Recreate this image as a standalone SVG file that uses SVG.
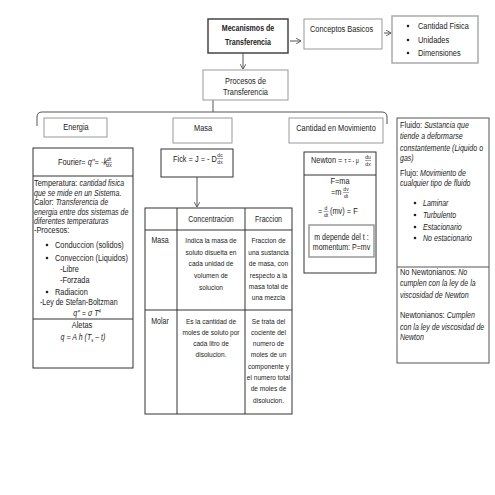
<svg xmlns="http://www.w3.org/2000/svg" width="495" height="495" viewBox="0 0 495 495">
<defs>
<style>
text{font-family:"Liberation Sans",Arial,sans-serif;fill:#222;font-size:8.6px}
.h{font-size:9px}
.tb{font-size:8px}
.s{font-size:5px}
.c{text-anchor:middle}
.i{font-style:italic}
.b{font-weight:bold}
.box{fill:#fff;stroke:#999;stroke-width:1}
.dk{fill:#fff;stroke:#333;stroke-width:1}
.ln{fill:none;stroke:#333;stroke-width:1}
.con{fill:none;stroke:#555;stroke-width:1}
</style>
<marker id="ah" markerWidth="6" markerHeight="6" refX="5" refY="3" orient="auto" markerUnits="userSpaceOnUse">
<path d="M0,0 L5,3 L0,6" fill="none" stroke="#555" stroke-width="0.9"/>
</marker>
</defs>
<rect width="495" height="495" fill="#fff"/>

<g id="connectors">
<line class="con" x1="290" y1="41" x2="301" y2="41" marker-end="url(#ah)"/>
<line class="con" x1="384" y1="33" x2="391" y2="33" marker-end="url(#ah)"/>
<line class="con" x1="243" y1="53" x2="243" y2="69" marker-end="url(#ah)"/>
<line class="con" x1="213" y1="100" x2="213" y2="112"/>
<path class="con" d="M37,126 L37,117 Q37,112 42,112 L382,112 Q387,112 387,117 L387,124"/>
<line class="con" x1="197" y1="177" x2="197" y2="207" marker-end="url(#ah)"/>
</g>

<g id="mecanismos">
<rect x="208" y="19" width="80" height="34" fill="#fff" stroke="#444" stroke-width="1.5"/>
<text class="b c" transform="translate(248,31) scale(.82,1)">Mecanismos de</text>
<text class="b c" transform="translate(248,45) scale(.82,1)">Transferencia</text>
</g>

<g id="conceptos">
<rect class="box" x="304" y="19" width="78" height="30"/>
<text class="h" transform="translate(310,32) scale(.82,1)">Conceptos Basicos</text>
</g>

<g id="cantidad-fisica">
<rect x="392" y="16" width="86" height="47" fill="#fff" stroke="#aaa" stroke-width="1.5"/>
<circle cx="408" cy="26" r="1.3" fill="#222"/>
<circle cx="408" cy="40" r="1.3" fill="#222"/>
<circle cx="408" cy="53" r="1.3" fill="#222"/>
<text class="h" transform="translate(418,29) scale(.82,1)">Cantidad Fisica</text>
<text class="h" transform="translate(418,43) scale(.82,1)">Unidades</text>
<text class="h" transform="translate(418,56) scale(.82,1)">Dimensiones</text>
</g>

<g id="procesos">
<rect class="box" x="203" y="70" width="85" height="30"/>
<text class="h c" transform="translate(245.5,84) scale(.82,1)">Procesos de</text>
<text class="h c" transform="translate(245.5,95) scale(.82,1)">Transferencia</text>
</g>

<g id="energia">
<rect class="box" x="44" y="118" width="63" height="19"/>
<text class="h c" transform="translate(76,130) scale(.82,1)">Energia</text>
</g>

<g id="masa">
<rect class="box" x="173" y="118" width="59" height="25"/>
<text class="h c" transform="translate(203,131) scale(.82,1)">Masa</text>
</g>

<g id="cantidad-movimiento">
<rect class="box" x="289" y="118" width="94" height="25"/>
<text class="h c" transform="translate(336,131) scale(.82,1)">Cantidad en Movimiento</text>
</g>

<g id="energia-detalle">
<rect class="dk" x="33" y="148" width="100" height="220"/>
<line class="ln" x1="33" y1="176" x2="133" y2="176"/>
<line class="ln" x1="33" y1="319" x2="133" y2="319"/>
<text class="h" transform="translate(58,165) scale(.82,1)">Fourier= <tspan class="i">q''= -k</tspan></text>
<text class="s c i" x="109" y="161">dt</text>
<line x1="106" y1="162.5" x2="112" y2="162.5" stroke="#222" stroke-width="0.4"/>
<text class="s c i" x="109" y="167">dx</text>
<text transform="translate(34,186) scale(.82,1)"><tspan class="h">Temperatura: </tspan><tspan class="i">cantidad fisica</tspan></text>
<text class="i" transform="translate(34,196) scale(.82,1)">que se mide en un Sistema.</text>
<text transform="translate(34,205) scale(.82,1)"><tspan class="h">Calor: </tspan><tspan class="i">Transferencia de</tspan></text>
<text class="i" transform="translate(34,215) scale(.82,1)">energia entre dos sistemas de</text>
<text class="i" transform="translate(34,224) scale(.82,1)">diferentes temperaturas</text>
<text class="h" transform="translate(34,233) scale(.82,1)">-Procesos:</text>
<circle cx="47" cy="245" r="1.3" fill="#222"/>
<text class="h" transform="translate(55,248) scale(.82,1)">Conduccion (solidos)</text>
<circle cx="47" cy="258" r="1.3" fill="#222"/>
<text class="h" transform="translate(55,261) scale(.82,1)">Conveccion (Liquidos)</text>
<text class="h" transform="translate(60,272) scale(.82,1)">-Libre</text>
<text class="h" transform="translate(60,283) scale(.82,1)">-Forzada</text>
<circle cx="47" cy="292" r="1.3" fill="#222"/>
<text class="h" transform="translate(55,295) scale(.82,1)">Radiacion</text>
<text transform="translate(40,305) scale(.82,1)">-Ley de Stefan-Boltzman</text>
<text class="i c" transform="translate(87,316) scale(.82,1)">q'' = σ T<tspan font-size="5" dy="-3">4</tspan></text>
<text class="h c" transform="translate(82,328) scale(.82,1)">Aletas</text>
<text class="i c" transform="translate(83,340) scale(.82,1)">q = A h (T<tspan font-size="5" dy="2">s</tspan><tspan dy="-2"> – t)</tspan></text>
</g>

<g id="fick">
<rect class="dk" x="161" y="149" width="72" height="28"/>
<text class="h" transform="translate(173,162) scale(.82,1)">Fick = J = - D</text>
<text class="s c" x="220" y="157">dc</text>
<line x1="217" y1="158.5" x2="223" y2="158.5" stroke="#222" stroke-width="0.4"/>
<text class="s c" x="220" y="164">dx</text>
</g>

<g id="tabla-masa">
<rect class="dk" x="145" y="208" width="147" height="206"/>
<line class="ln" x1="177" y1="208" x2="177" y2="414"/>
<line class="ln" x1="245" y1="208" x2="245" y2="414"/>
<line class="ln" x1="145" y1="230" x2="292" y2="230"/>
<line class="ln" x1="145" y1="310" x2="292" y2="310"/>
<text class="c" transform="translate(211,222) scale(.82,1)">Concentracion</text>
<text class="c" transform="translate(268.5,222) scale(.82,1)">Fraccion</text>
<text class="c" transform="translate(160,243) scale(.82,1)">Masa</text>
<text class="tb c" transform="translate(211,243) scale(.82,1)">Indica la masa de</text>
<text class="tb c" transform="translate(211,255) scale(.82,1)">soluto disuelta en</text>
<text class="tb c" transform="translate(211,266) scale(.82,1)">cada unidad de</text>
<text class="tb c" transform="translate(211,278) scale(.82,1)">volumen de</text>
<text class="tb c" transform="translate(211,290) scale(.82,1)">solucion</text>
<text class="tb c" transform="translate(268.5,243) scale(.82,1)">Fraccion de</text>
<text class="tb c" transform="translate(268.5,255) scale(.82,1)">una sustancia</text>
<text class="tb c" transform="translate(268.5,266) scale(.82,1)">de masa, con</text>
<text class="tb c" transform="translate(268.5,278) scale(.82,1)">respecto a la</text>
<text class="tb c" transform="translate(268.5,289) scale(.82,1)">masa total de</text>
<text class="tb c" transform="translate(268.5,300) scale(.82,1)">una mezcla</text>
<text class="c" transform="translate(160,324) scale(.82,1)">Molar</text>
<text class="tb c" transform="translate(211,324) scale(.82,1)">Es la cantidad de</text>
<text class="tb c" transform="translate(211,335) scale(.82,1)">moles de soluto por</text>
<text class="tb c" transform="translate(211,346) scale(.82,1)">cada litro de</text>
<text class="tb c" transform="translate(211,357) scale(.82,1)">disolucion.</text>
<text class="tb c" transform="translate(268.5,324) scale(.82,1)">Se trata del</text>
<text class="tb c" transform="translate(268.5,335) scale(.82,1)">cociente del</text>
<text class="tb c" transform="translate(268.5,346) scale(.82,1)">numero de</text>
<text class="tb c" transform="translate(268.5,357) scale(.82,1)">moles de un</text>
<text class="tb c" transform="translate(268.5,369) scale(.82,1)">componente y</text>
<text class="tb c" transform="translate(268.5,380) scale(.82,1)">el numero total</text>
<text class="tb c" transform="translate(268.5,391) scale(.82,1)">de moles de</text>
<text class="tb c" transform="translate(268.5,403) scale(.82,1)">disolucion.</text>
</g>

<g id="newton">
<rect class="dk" x="304" y="152" width="72" height="121"/>
<line class="ln" x1="304" y1="175" x2="376" y2="175"/>
<text class="h" transform="translate(311,163) scale(.82,1)">Newton = <tspan font-size="6.5">τ = - μ</tspan></text>
<text class="s c" x="368" y="159">du</text>
<line x1="365" y1="160.5" x2="371" y2="160.5" stroke="#222" stroke-width="0.4"/>
<text class="s c" x="368" y="166">dx</text>
<text class="h c" transform="translate(340,184) scale(.82,1)">F=ma</text>
<text class="h" transform="translate(331,195) scale(.82,1)">=m</text>
<text class="s c" x="346" y="191">dv</text>
<line x1="343" y1="192.5" x2="349" y2="192.5" stroke="#222" stroke-width="0.4"/>
<text class="s c" x="346" y="198">dt</text>
<text class="h" transform="translate(318,214) scale(.82,1)">=</text>
<text class="s c" x="326" y="210">d</text>
<line x1="323.5" y1="211.5" x2="328.5" y2="211.5" stroke="#222" stroke-width="0.4"/>
<text class="s c" x="326" y="217">dt</text>
<text class="h" transform="translate(330,214) scale(.82,1)">(mv) = F</text>
<rect x="309" y="225" width="65" height="32" fill="#fff" stroke="#999" stroke-width="1.5"/>
<text class="c" transform="translate(341.5,240) scale(.82,1)">m depende del t :</text>
<text class="c" transform="translate(341.5,250) scale(.82,1)">momentum: P=mv</text>
</g>

<g id="fluidos">
<rect x="397" y="118" width="92" height="245" fill="#fff" stroke="#555" stroke-width="1"/>
<line x1="397" y1="267" x2="489" y2="267" stroke="#555" stroke-width="1"/>
<text transform="translate(400,128) scale(.82,1)"><tspan class="h">Fluido: </tspan><tspan class="i">Sustancia que</tspan></text>
<text class="i" transform="translate(400,139) scale(.82,1)">tiende a deformarse</text>
<text class="i" transform="translate(400,151) scale(.82,1)">constantemente (Liquido o</text>
<text class="i" transform="translate(400,161) scale(.82,1)">gas)</text>
<text transform="translate(400,176) scale(.82,1)"><tspan class="h">Flujo: </tspan><tspan class="i">Movimiento de</tspan></text>
<text class="i" transform="translate(400,186) scale(.82,1)">cualquier tipo de fluido</text>
<circle cx="415" cy="203" r="1.3" fill="#222"/>
<circle cx="415" cy="215" r="1.3" fill="#222"/>
<circle cx="415" cy="227" r="1.3" fill="#222"/>
<circle cx="415" cy="238" r="1.3" fill="#222"/>
<text class="i" transform="translate(423,206) scale(.82,1)">Laminar</text>
<text class="i" transform="translate(423,218) scale(.82,1)">Turbulento</text>
<text class="i" transform="translate(423,230) scale(.82,1)">Estacionario</text>
<text class="i" transform="translate(423,241) scale(.82,1)">No estacionario</text>
<text transform="translate(400,275) scale(.82,1)"><tspan class="h">No Newtonianos: </tspan><tspan class="i">No</tspan></text>
<text class="i" transform="translate(400,286) scale(.82,1)">cumplen con la ley de la</text>
<text class="i" transform="translate(400,298) scale(.82,1)">viscosidad de Newton</text>
<text transform="translate(400,318) scale(.82,1)"><tspan class="h">Newtonianos: </tspan><tspan class="i">Cumplen</tspan></text>
<text class="i" transform="translate(400,330) scale(.82,1)">con la ley de viscosidad de</text>
<text class="i" transform="translate(400,340) scale(.82,1)">Newton</text>
</g>
</svg>
